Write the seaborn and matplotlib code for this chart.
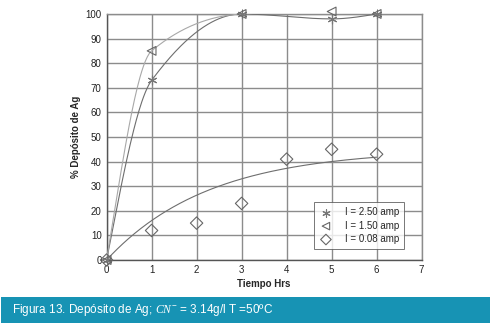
import numpy as np
import pandas as pd
import matplotlib
matplotlib.use("Agg")
import matplotlib.pyplot as plt
import seaborn as sns

# ---- data ----
t_250 = [0, 1, 3, 5, 6]
y_250 = [0, 73, 100, 98, 100]
t_150 = [0, 1, 3, 5, 6]
y_150 = [0, 85, 100, 101, 100]
t_008 = [0, 1, 2, 3, 4, 5, 6]
y_008 = [0, 12, 15, 23, 41, 45, 43]
# trend model for the 0.08 amp series (saturating exponential)
trend_008_asym = 45.0
trend_008_rate = 0.44

labels = ["I = 2.50 amp", "I = 1.50 amp", "I = 0.08 amp"]
x_ticks = [0, 1, 2, 3, 4, 5, 6, 7]
y_ticks = [0, 10, 20, 30, 40, 50, 60, 70, 80, 90, 100]


def pchip(x, y, xs):
    x = np.asarray(x, float); y = np.asarray(y, float)
    h = np.diff(x); d = np.diff(y) / h
    n = len(x); m = np.zeros(n)
    for k in range(1, n - 1):
        if d[k - 1] * d[k] <= 0:
            m[k] = 0.0
        else:
            w1 = 2 * h[k] + h[k - 1]; w2 = h[k] + 2 * h[k - 1]
            m[k] = (w1 + w2) / (w1 / d[k - 1] + w2 / d[k])
    def end(h0, h1, d0, d1):
        mm = ((2 * h0 + h1) * d0 - h0 * d1) / (h0 + h1)
        if np.sign(mm) != np.sign(d0):
            mm = 0.0
        elif np.sign(d0) != np.sign(d1) and abs(mm) > 3 * abs(d0):
            mm = 3 * d0
        return mm
    m[0] = end(h[0], h[1], d[0], d[1])
    m[-1] = end(h[-1], h[-2], d[-1], d[-2])
    xs = np.asarray(xs, float)
    idx = np.clip(np.searchsorted(x, xs) - 1, 0, n - 2)
    hh = h[idx]; t = (xs - x[idx]) / hh
    h00 = 2 * t**3 - 3 * t**2 + 1; h10 = t**3 - 2 * t**2 + t
    h01 = -2 * t**3 + 3 * t**2; h11 = t**3 - t**2
    return h00 * y[idx] + h10 * hh * m[idx] + h01 * y[idx + 1] + h11 * hh * m[idx + 1]


xs = np.linspace(0, 6, 300)
curves = pd.concat([
    pd.DataFrame({"t": xs, "y": pchip(t_250, y_250, xs), "s": labels[0]}),
    pd.DataFrame({"t": xs, "y": pchip(t_150, y_150, xs), "s": labels[1]}),
    pd.DataFrame({"t": xs, "y": trend_008_asym * (1 - np.exp(-trend_008_rate * xs)), "s": labels[2]}),
])
pts = pd.concat([
    pd.DataFrame({"t": t_250, "y": y_250, "s": labels[0]}),
    pd.DataFrame({"t": t_150, "y": y_150, "s": labels[1]}),
    pd.DataFrame({"t": t_008, "y": y_008, "s": labels[2]}),
])

sns.set_theme(style="white")
plt.rcParams["font.family"] = ["Liberation Sans", "DejaVu Sans"]
plt.rcParams["mathtext.fontset"] = "custom"
plt.rcParams["mathtext.it"] = "Liberation Serif:italic"
plt.rcParams["mathtext.rm"] = "Liberation Sans"

fig = plt.figure(figsize=(4.9, 3.25), dpi=100)
ax = fig.add_axes([0.2175, 0.2, 0.643, 0.757])

line_cols = {labels[0]: "#6e6e6e", labels[1]: "#a8a8a8", labels[2]: "#6e6e6e"}
sns.lineplot(data=curves, x="t", y="y", hue="s", palette=line_cols, ax=ax,
             legend=False, linewidth=0.8, zorder=3)

markers = {labels[0]: (6, 2, 0), labels[1]: "<", labels[2]: "D"}
for lab in labels:
    sub = pts[pts["s"] == lab]
    mk = markers[lab]
    if lab == labels[0]:
        sns.scatterplot(data=sub, x="t", y="y", ax=ax, marker=mk, s=40,
                        color="#777777", linewidth=0.8, label=lab, zorder=4, clip_on=False)
    else:
        sns.scatterplot(data=sub, x="t", y="y", ax=ax, marker=mk, s=40,
                        facecolor="none", edgecolor="#666666", linewidth=0.8,
                        label=lab, zorder=4, clip_on=False)

ax.set_xlim(0, 7)
ax.set_ylim(0, 100)
ax.set_xticks(x_ticks)
ax.set_yticks(y_ticks)
ax.grid(True, color="#8c8c8c", linewidth=1.0)
ax.set_axisbelow(True)
for sp in ax.spines.values():
    sp.set_color("#8c8c8c")
    sp.set_linewidth(1.0)
ax.spines["left"].set_color("#555555")
ax.spines["bottom"].set_color("#555555")
ax.tick_params(axis="both", labelsize=7, colors="#222222", length=2, pad=1.5, width=0.6)
ax.set_xlabel("Tiempo Hrs", fontsize=7, fontweight="bold", labelpad=3)
ax.set_ylabel("% Depósito de Ag", fontsize=7, fontweight="bold", labelpad=3)

leg = ax.legend(loc="lower right", bbox_to_anchor=(0.944, 0.045), fontsize=7,
                frameon=True, fancybox=False, edgecolor="#555555", borderaxespad=0,
                handletextpad=1.2, borderpad=0.5, labelspacing=0.35, handlelength=1.5,
                markerscale=0.85)
leg.get_frame().set_linewidth(0.7)

# caption bar
fig.patches.append(plt.Rectangle((0.002, 2 / 325), 0.998, 26 / 325, transform=fig.transFigure,
                                 facecolor="#1793b4", edgecolor="none", zorder=0))
fig.text(12 / 490, 15 / 325, r"Figura 13. Depósito de Ag; $\mathit{CN}^{-}$ = 3.14g/l T =50ºC",
         color="white", fontsize=8.5, va="center", ha="left")

fig.savefig("out.png", dpi=100)
